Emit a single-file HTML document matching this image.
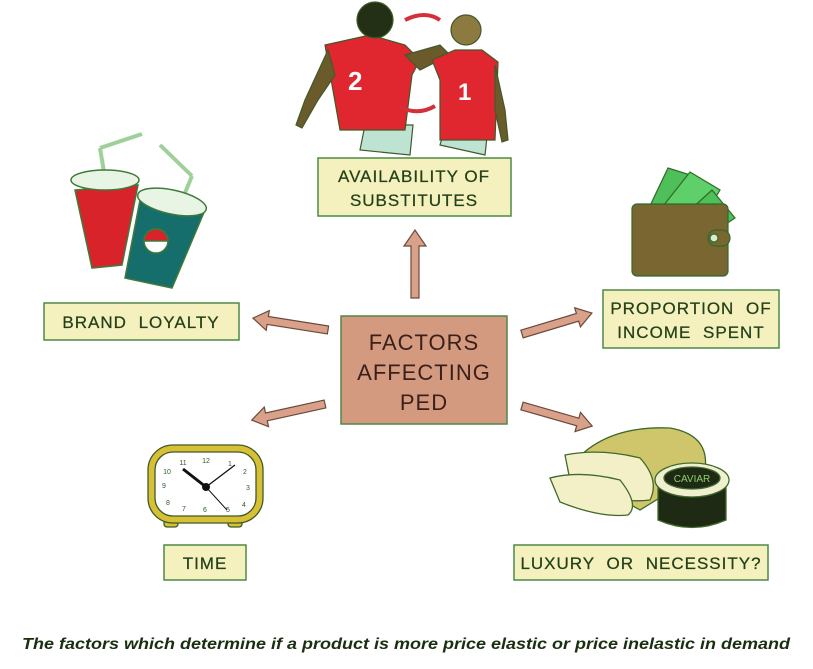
<!DOCTYPE html>
<html><head><meta charset="utf-8"><style>
html,body{margin:0;padding:0;background:#fff;}
svg{display:block;}
.lbl{font-family:"Liberation Sans",sans-serif;font-size:17px;fill:#24401a;letter-spacing:1px;stroke:#24401a;stroke-width:0.25;}
</style></head><body>
<svg width="813" height="669" viewBox="0 0 813 669" xmlns="http://www.w3.org/2000/svg">
<rect width="813" height="669" fill="#fff"/>
<!-- Players -->
<g stroke="#3f5a2a" stroke-width="1.2">
  <path d="M360 150 L365 125 L413 125 L410 155 Z" fill="#bfe3d2"/>
  <path d="M325 45 L370 35 L405 45 L420 60 L412 75 L405 130 L340 130 Z" fill="#e0262e"/>
  <path d="M328 50 L305 100 L296 125 L302 128 L318 100 L335 75Z" fill="#6b5a2a"/>
  <circle cx="375" cy="20" r="18" fill="#233015"/>
  <path d="M405 55 L440 45 L450 55 L420 70Z" fill="#6b5a2a"/>
  <path d="M440 145 L445 128 L488 128 L485 155 Z" fill="#bfe3d2"/>
  <path d="M432 60 L455 50 L482 50 L498 62 L495 140 L440 140 L440 80 Z" fill="#e0262e"/>
  <circle cx="466" cy="30" r="15" fill="#8c7a40"/>
  <path d="M495 65 L505 110 L508 140 L502 142 L495 110Z" fill="#6b5a2a"/>
</g>
<text x="348" y="90" font-family="Liberation Sans" font-weight="bold" font-size="26" fill="#fff">2</text>
<text x="458" y="100" font-family="Liberation Sans" font-weight="bold" font-size="24" fill="#fff">1</text>
<path d="M440 20 Q425 10 405 20" stroke="#d4303a" stroke-width="4" fill="none"/>
<path d="M400 107 Q418 116 435 106" stroke="#d4303a" stroke-width="4" fill="none"/>
<!-- Cups -->
<g stroke="#3f7a3a" stroke-width="1.5">
  <line x1="100" y1="148" x2="142" y2="134" stroke="#9fd09a" stroke-width="4"/>
  <line x1="100" y1="148" x2="104" y2="172" stroke="#9fd09a" stroke-width="4"/>
  <path d="M75 190 L138 185 L122 265 L92 268 Z" fill="#d9232b"/>
  <ellipse cx="105" cy="180" rx="34" ry="10" fill="#e8f4e4"/>
  <line x1="160" y1="145" x2="192" y2="176" stroke="#9fd09a" stroke-width="4"/>
  <line x1="192" y1="176" x2="182" y2="200" stroke="#9fd09a" stroke-width="4"/>
  <path d="M140 200 L205 210 L172 288 L125 278 Z" fill="#156d6c"/>
  <ellipse cx="172" cy="202" rx="35" ry="12" fill="#e8f4e4" transform="rotate(12 172 202)"/>
  <circle cx="156" cy="241" r="12" fill="#fff"/>
  <path d="M144 241 A12 12 0 0 1 168 241Z" fill="#d9232b"/>
</g>
<!-- Wallet -->
<g stroke="#2f6a2a" stroke-width="1.2">
  <path d="M648 210 L668 168 L700 178 L690 210Z" fill="#4fbf5a"/>
  <path d="M660 210 L690 172 L720 190 L705 215Z" fill="#5fcf6a"/>
  <path d="M690 210 L712 190 L735 218 L720 228Z" fill="#4fbf5a"/>
  <rect x="632" y="204" width="96" height="72" rx="5" fill="#7a6631"/>
  <rect x="708" y="230" width="22" height="16" rx="8" fill="#7a6631"/>
  <circle cx="714" cy="238" r="4" fill="#e0e8d0"/>
</g>
<!-- Clock -->
<g stroke="#3f5a2a" stroke-width="1.3">
  <rect x="164" y="520" width="14" height="7" rx="3" fill="#d8c035"/>
  <rect x="228" y="520" width="14" height="7" rx="3" fill="#d8c035"/>
  <rect x="148" y="445" width="115" height="78" rx="25" fill="#d8c035"/>
  <rect x="155" y="452" width="101" height="64" rx="18" fill="#fff"/>
</g>
<g font-family="Liberation Sans" font-size="7" fill="#2f5a2a" text-anchor="middle">
<text x="206" y="463">12</text><text x="230" y="466">1</text><text x="245" y="474">2</text><text x="248" y="490">3</text><text x="244" y="507">4</text><text x="228" y="512">5</text><text x="205" y="512">6</text><text x="184" y="511">7</text><text x="168" y="505">8</text><text x="164" y="488">9</text><text x="167" y="474">10</text><text x="183" y="465">11</text>
</g>
<line x1="206" y1="487" x2="183" y2="469" stroke="#111" stroke-width="3"/>
<line x1="206" y1="487" x2="235" y2="465" stroke="#111" stroke-width="1.3"/>
<line x1="206" y1="487" x2="227" y2="510" stroke="#111" stroke-width="1"/>
<circle cx="206" cy="487" r="4" fill="#111"/>
<!-- Bread & caviar -->
<g stroke="#3f6a2a" stroke-width="1.3">
  <path d="M568 470 Q600 425 670 428 Q710 435 705 470 L640 510 Z" fill="#cfc56a"/>
  <path d="M565 455 Q600 448 640 458 Q660 480 650 500 Q610 505 570 480 Z" fill="#f3f0c8"/>
  <path d="M550 478 Q580 470 620 480 Q640 505 628 515 Q600 518 560 502 Z" fill="#f3f0c8"/>
  <path d="M658 480 L726 480 L726 520 Q692 535 658 520 Z" fill="#1e2a14"/>
  <ellipse cx="692" cy="480" rx="37" ry="17" fill="#f0f0d0"/>
  <ellipse cx="692" cy="478" rx="28" ry="11" fill="#1e2a14"/>
</g>
<text x="692" y="482" font-family="Liberation Sans" font-size="10" fill="#8fcf6a" text-anchor="middle">CAVIAR</text>
<!-- Arrows -->
<g fill="#d9a08a" stroke="#6a4a3a" stroke-width="1.2">
  <path d="M411 298 L411 246 L404 246 L415 230 L426 246 L419 246 L419 298 Z"/>
  <path d="M0 -4 L61 -4 L61 -10 L76 0 L61 10 L61 4 L0 4 Z" transform="translate(328 330) rotate(189)"/>
  <path d="M0 -4 L58 -4 L58 -10 L73 0 L58 10 L58 4 L0 4 Z" transform="translate(522 334) rotate(-16.7)"/>
  <path d="M0 -4 L60 -4 L60 -10 L75 0 L60 10 L60 4 L0 4 Z" transform="translate(325 404) rotate(167.6)"/>
  <path d="M0 -4 L58 -4 L58 -10 L73 0 L58 10 L58 4 L0 4 Z" transform="translate(522 406) rotate(16)"/>
</g>
<!-- Boxes -->
<g fill="#f4f1bf" stroke="#4d8a47" stroke-width="1.5">
  <rect x="318" y="158" width="193" height="58"/>
  <rect x="44" y="303" width="195" height="37"/>
  <rect x="603" y="290" width="176" height="58"/>
  <rect x="164" y="545" width="82" height="35"/>
  <rect x="514" y="545" width="254" height="35"/>
</g>
<rect x="341" y="316" width="166" height="108" fill="#d49a80" stroke="#4d8a47" stroke-width="1.5"/>
<g class="lbl" text-anchor="middle">
  <text x="414" y="182">AVAILABILITY OF</text>
  <text x="414" y="206">SUBSTITUTES</text>
  <text x="141" y="328" word-spacing="6">BRAND LOYALTY</text>
  <text x="691" y="314" word-spacing="6">PROPORTION OF</text>
  <text x="691" y="338" word-spacing="6">INCOME SPENT</text>
  <text x="205" y="569">TIME</text>
  <text x="641" y="569" word-spacing="6">LUXURY OR NECESSITY?</text>
</g>
<g font-family="Liberation Sans" font-size="22" fill="#3a1f1a" text-anchor="middle" letter-spacing="1">
  <text x="424" y="350">FACTORS</text>
  <text x="424" y="380">AFFECTING</text>
  <text x="424" y="410">PED</text>
</g>
<text x="22" y="649" font-family="Liberation Sans" font-style="italic" font-weight="bold" font-size="16" fill="#1a2e10" textLength="768" lengthAdjust="spacingAndGlyphs">The factors which determine if a product is more price elastic or price inelastic in demand</text>
</svg>
</body></html>
